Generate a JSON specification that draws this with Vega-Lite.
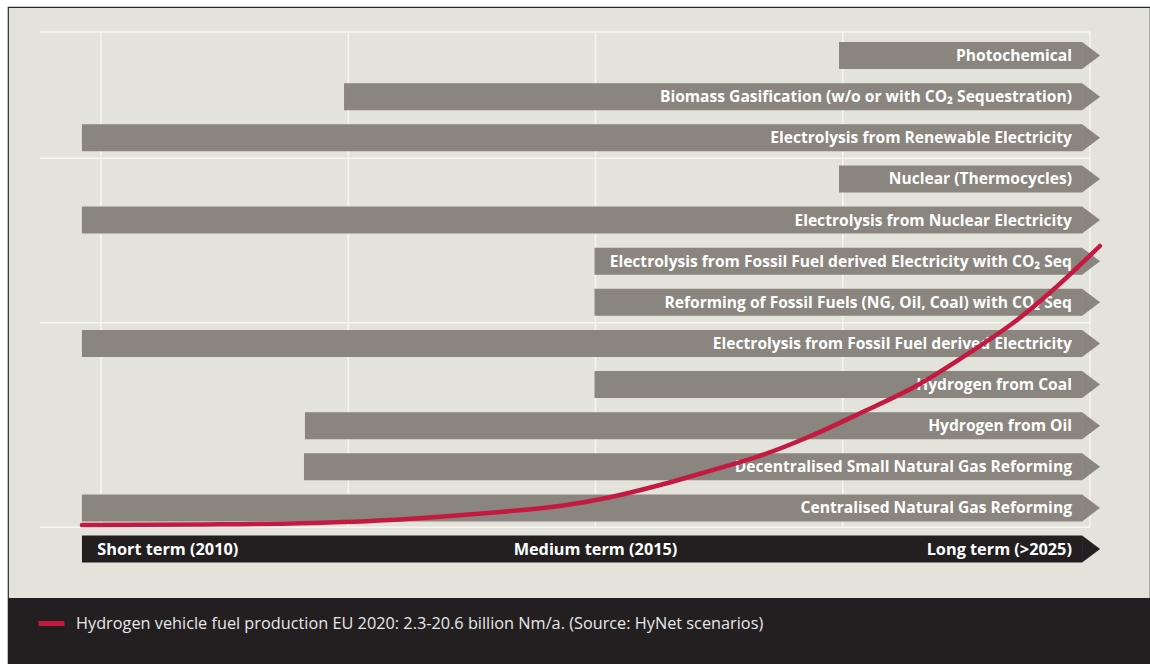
{
  "$schema": "https://vega.github.io/schema/vega-lite/v6.json",
  "width": 1142,
  "height": 657,
  "autosize": {"type": "none"},
  "padding": {"left": 8, "top": 7, "right": 0, "bottom": 0},
  "background": "#ffffff",
  "config": {
    "view": {"fill": "#e3e2db", "stroke": "#2b2a29", "strokeWidth": 1.2},
    "font": "Open Sans"
  },
  "datasets": {
    "routes": [
      {"label": "Photochemical", "row": 1, "start": 2.985, "kind": "technology"},
      {"label": "Biomass Gasification (w/o or with CO₂ Sequestration)", "row": 2, "start": 0.983, "kind": "technology"},
      {"label": "Electrolysis from Renewable Electricity", "row": 3, "start": -0.077, "kind": "technology"},
      {"label": "Nuclear (Thermocycles)", "row": 4, "start": 2.985, "kind": "technology"},
      {"label": "Electrolysis from Nuclear Electricity", "row": 5, "start": -0.077, "kind": "technology"},
      {"label": "Electrolysis from Fossil Fuel derived Electricity with CO₂ Seq", "row": 6, "start": 1.996, "kind": "technology"},
      {"label": "Reforming of Fossil Fuels (NG, Oil, Coal) with CO₂ Seq", "row": 7, "start": 1.996, "kind": "technology"},
      {"label": "Electrolysis from Fossil Fuel derived Electricity", "row": 8, "start": -0.077, "kind": "technology"},
      {"label": "Hydrogen from Coal", "row": 9, "start": 1.996, "kind": "technology"},
      {"label": "Hydrogen from Oil", "row": 10, "start": 0.825, "kind": "technology"},
      {"label": "Decentralised Small Natural Gas Reforming", "row": 11, "start": 0.821, "kind": "technology"},
      {"label": "Centralised Natural Gas Reforming", "row": 12, "start": -0.077, "kind": "technology"},
      {"label": "Timeline", "row": 13, "start": -0.077, "kind": "phase"}
    ],
    "phases": [
      {"label": "Short term (2010)", "phase": -0.015},
      {"label": "Medium term (2015)", "phase": 2.0},
      {"label": "Long term (>2025)", "phase": 3.927}
    ],
    "hgrid": [{"row": 0.43}, {"row": 3.5}, {"row": 7.5}, {"row": 12.47}],
    "vgrid": [{"phase": 0}, {"phase": 1}, {"phase": 2}, {"phase": 3}, {"phase": 4}],
    "curve": [
      {"phase": -0.077, "production": 0},
      {"phase": 0.4, "production": 0.04},
      {"phase": 0.805, "production": 0.13},
      {"phase": 1.209, "production": 0.41},
      {"phase": 1.412, "production": 0.66},
      {"phase": 1.614, "production": 0.96},
      {"phase": 1.856, "production": 1.4},
      {"phase": 2.059, "production": 2.05},
      {"phase": 2.261, "production": 2.95},
      {"phase": 2.463, "production": 4.0},
      {"phase": 2.665, "production": 5.1},
      {"phase": 2.868, "production": 6.55},
      {"phase": 3.07, "production": 8.25},
      {"phase": 3.3, "production": 10.3},
      {"phase": 3.515, "production": 12.75},
      {"phase": 3.705, "production": 15.14},
      {"phase": 3.85, "production": 17.35},
      {"phase": 4.04, "production": 20.6}
    ]
  },
  "layer": [
    {
      "layer": [
        {
          "data": {"values": [{}]},
          "mark": {"type": "rect", "color": "#231f20", "clip": true},
          "encoding": {
            "x": {"datum": -0.3761, "type": "quantitative", "axis": null, "scale": {"domain": [-0.3761, 4.2427], "nice": false, "zero": false, "padding": 0}},
            "x2": {"datum": 4.2427},
            "y": {"datum": 14.191, "type": "quantitative", "axis": null, "scale": {"domain": [-0.1793, 15.796], "reverse": true, "nice": false, "zero": false, "padding": 0}},
            "y2": {"datum": 15.796}
          }
        },
        {
          "data": {"name": "hgrid"},
          "mark": {"type": "rule", "color": "#f6f5f0", "strokeWidth": 1.5},
          "encoding": {
            "x": {"datum": -0.2467, "type": "quantitative", "axis": null, "scale": {"domain": [-0.3761, 4.2427], "nice": false, "zero": false, "padding": 0}},
            "x2": {"datum": 4},
            "y": {"field": "row", "type": "quantitative", "axis": null, "scale": {"domain": [-0.1793, 15.796], "reverse": true, "nice": false, "zero": false, "padding": 0}}
          }
        },
        {
          "data": {"name": "vgrid"},
          "mark": {"type": "rule", "color": "#f6f5f0", "strokeWidth": 1.5},
          "encoding": {
            "x": {"field": "phase", "type": "quantitative", "axis": null, "scale": {"domain": [-0.3761, 4.2427], "nice": false, "zero": false, "padding": 0}},
            "y": {"datum": 0.43, "type": "quantitative", "axis": null, "scale": {"domain": [-0.1793, 15.796], "reverse": true, "nice": false, "zero": false, "padding": 0}},
            "y2": {"datum": 12.47}
          }
        },
        {
          "data": {"name": "routes"},
          "mark": {"type": "bar", "size": 27, "orient": "horizontal"},
          "encoding": {
            "x": {"field": "start", "type": "quantitative", "axis": null, "scale": {"domain": [-0.3761, 4.2427], "nice": false, "zero": false, "padding": 0}},
            "x2": {"datum": 3.968},
            "y": {"field": "row", "type": "quantitative", "axis": null, "scale": {"domain": [-0.1793, 15.796], "reverse": true, "nice": false, "zero": false, "padding": 0}},
            "fill": {"field": "kind", "type": "nominal", "legend": null, "scale": {"domain": ["technology", "phase"], "range": ["#8a857e", "#231f20"]}}
          }
        },
        {
          "data": {"name": "routes"},
          "mark": {"type": "point", "shape": "M 0 -1 L 1.333 0 L 0 1 Z", "size": 729, "filled": true, "opacity": 1, "strokeWidth": 0},
          "encoding": {
            "x": {"datum": 3.968, "type": "quantitative", "axis": null, "scale": {"domain": [-0.3761, 4.2427], "nice": false, "zero": false, "padding": 0}},
            "y": {"field": "row", "type": "quantitative", "axis": null, "scale": {"domain": [-0.1793, 15.796], "reverse": true, "nice": false, "zero": false, "padding": 0}},
            "fill": {"field": "kind", "type": "nominal", "legend": null, "scale": {"domain": ["technology", "phase"], "range": ["#8a857e", "#231f20"]}}
          }
        },
        {
          "data": {"name": "routes"},
          "transform": [{"filter": "datum.kind === 'technology'"}],
          "mark": {"type": "text", "align": "right", "baseline": "middle", "font": "Open Sans", "fontWeight": "bold", "fontSize": 15.6, "color": "#ffffff", "dy": 0.5},
          "encoding": {
            "x": {"datum": 3.927, "type": "quantitative", "axis": null, "scale": {"domain": [-0.3761, 4.2427], "nice": false, "zero": false, "padding": 0}},
            "y": {"field": "row", "type": "quantitative", "axis": null, "scale": {"domain": [-0.1793, 15.796], "reverse": true, "nice": false, "zero": false, "padding": 0}},
            "text": {"field": "label"}
          }
        },
        {
          "data": {"name": "phases"},
          "transform": [{"filter": "datum.label === 'Short term (2010)'"}],
          "mark": {"type": "text", "align": "left", "baseline": "middle", "font": "Open Sans", "fontWeight": "bold", "fontSize": 16.3, "color": "#ffffff", "dy": 0.5},
          "encoding": {
            "x": {"field": "phase", "type": "quantitative", "axis": null, "scale": {"domain": [-0.3761, 4.2427], "nice": false, "zero": false, "padding": 0}},
            "y": {"datum": 13, "type": "quantitative", "axis": null, "scale": {"domain": [-0.1793, 15.796], "reverse": true, "nice": false, "zero": false, "padding": 0}},
            "text": {"field": "label"}
          }
        },
        {
          "data": {"name": "phases"},
          "transform": [{"filter": "datum.label === 'Medium term (2015)'"}],
          "mark": {"type": "text", "align": "center", "baseline": "middle", "font": "Open Sans", "fontWeight": "bold", "fontSize": 16.3, "color": "#ffffff", "dy": 0.5},
          "encoding": {
            "x": {"field": "phase", "type": "quantitative", "axis": null, "scale": {"domain": [-0.3761, 4.2427], "nice": false, "zero": false, "padding": 0}},
            "y": {"datum": 13, "type": "quantitative", "axis": null, "scale": {"domain": [-0.1793, 15.796], "reverse": true, "nice": false, "zero": false, "padding": 0}},
            "text": {"field": "label"}
          }
        },
        {
          "data": {"name": "phases"},
          "transform": [{"filter": "datum.label === 'Long term (>2025)'"}],
          "mark": {"type": "text", "align": "right", "baseline": "middle", "font": "Open Sans", "fontWeight": "bold", "fontSize": 16.3, "color": "#ffffff", "dy": 0.5},
          "encoding": {
            "x": {"field": "phase", "type": "quantitative", "axis": null, "scale": {"domain": [-0.3761, 4.2427], "nice": false, "zero": false, "padding": 0}},
            "y": {"datum": 13, "type": "quantitative", "axis": null, "scale": {"domain": [-0.1793, 15.796], "reverse": true, "nice": false, "zero": false, "padding": 0}},
            "text": {"field": "label"}
          }
        }
      ]
    },
    {
      "layer": [
        {
          "data": {"name": "curve"},
          "mark": {"type": "line", "interpolate": "monotone", "strokeWidth": 4.5, "strokeCap": "round"},
          "encoding": {
            "x": {"field": "phase", "type": "quantitative", "axis": null, "scale": {"domain": [-0.3761, 4.2427], "nice": false, "zero": false, "padding": 0}},
            "y": {"field": "production", "type": "quantitative", "axis": null, "scale": {"domain": [-10.263, 38.246], "nice": false, "zero": false, "padding": 0}},
            "stroke": {
              "datum": "Hydrogen vehicle fuel production EU 2020: 2.3-20.6 billion Nm/a. (Source: HyNet scenarios)",
              "type": "nominal",
              "scale": {"range": ["#c41a41"]},
              "legend": {
                "orient": "none",
                "legendX": 28,
                "legendY": 601,
                "title": null,
                "padding": 0,
                "symbolType": "stroke",
                "symbolSize": 676,
                "symbolStrokeWidth": 5,
                "labelOffset": 9,
                "labelColor": "#e8e8e8",
                "labelFont": "Open Sans",
                "labelFontSize": 16.3,
                "labelLimit": 0
              }
            }
          }
        }
      ]
    }
  ],
  "resolve": {"scale": {"y": "independent"}}
}
